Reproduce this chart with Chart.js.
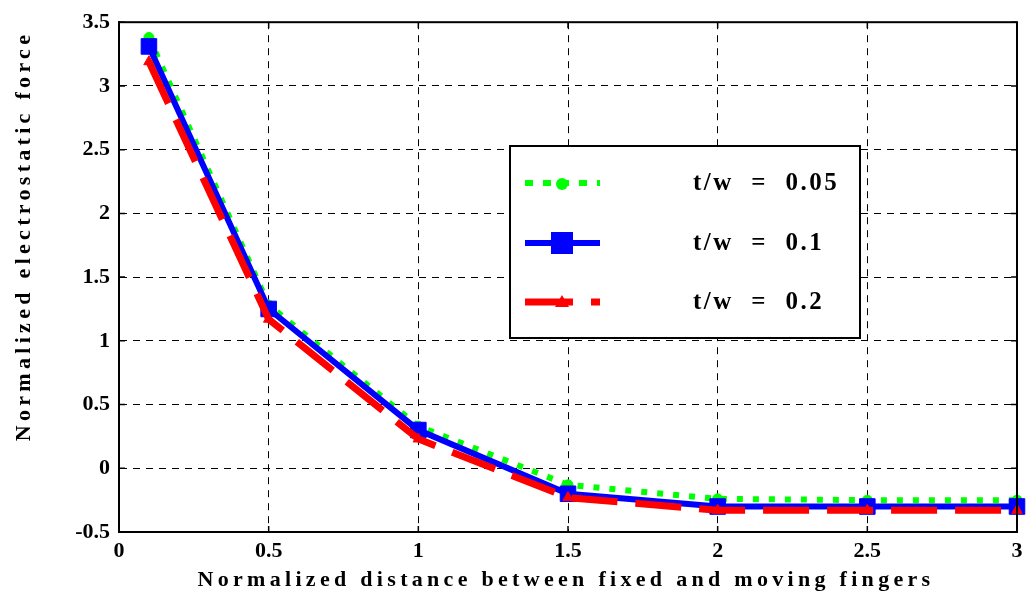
<!DOCTYPE html>
<html>
<head>
<meta charset="utf-8">
<script src="https://cdn.jsdelivr.net/npm/chart.js@4.4.0/dist/chart.umd.min.js"></script>
<style>
  html, body { margin: 0; padding: 0; background: #fff; }
  #wrap { width: 1029px; height: 596px; }
</style>
</head>
<body>
<div id="wrap"><canvas id="forceChart" width="1029" height="596"></canvas></div>
<script>
// data
const distances = [0.1, 0.5, 1, 1.5, 2, 2.5, 3];
const force005 = [3.38, 1.28, 0.33, -0.13, -0.24, -0.25, -0.25];
const force01  = [3.31, 1.25, 0.30, -0.20, -0.30, -0.30, -0.30];
const force02  = [3.19, 1.17, 0.23, -0.23, -0.33, -0.33, -0.33];
const seriesLabels = ['t/w = 0.05', 't/w = 0.1', 't/w = 0.2'];
const xTitle = 'Normalized distance between fixed and moving fingers';
const yTitle = 'Normalized electrostatic force';

const FONT = '"Liberation Serif", "Times New Roman", serif';

function toPoints(ys) {
  return distances.map((x, i) => ({ x: x, y: ys[i] }));
}

const styles = [
  { color: '#00ff00', width: 6, dash: [6, 10], pointStyle: 'circle', radius: 5 },
  { color: '#0000ff', width: 6, dash: [], pointStyle: 'rect', radius: 11 },
  { color: '#ff0000', width: 7, dash: [46, 18], pointStyle: 'triangle', radius: 6 }
];

// frame, inner tick marks, axis titles and the boxed legend
const decorPlugin = {
  id: 'decor',
  afterDraw(chart) {
    const { ctx, chartArea: a, scales } = chart;
    ctx.save();
    ctx.strokeStyle = '#000';
    ctx.lineWidth = 2;
    ctx.setLineDash([]);
    ctx.strokeRect(a.left, a.top, a.right - a.left, a.bottom - a.top);

    ctx.lineWidth = 1.5;
    ctx.beginPath();
    scales.x.ticks.forEach(t => {
      const px = scales.x.getPixelForValue(t.value);
      ctx.moveTo(px, a.bottom); ctx.lineTo(px, a.bottom - 6);
      ctx.moveTo(px, a.top); ctx.lineTo(px, a.top + 6);
    });
    scales.y.ticks.forEach(t => {
      const py = scales.y.getPixelForValue(t.value);
      ctx.moveTo(a.left, py); ctx.lineTo(a.left + 6, py);
      ctx.moveTo(a.right, py); ctx.lineTo(a.right - 6, py);
    });
    ctx.stroke();

    // axis titles
    ctx.fillStyle = '#000';
    ctx.font = 'bold 22px ' + FONT;
    ctx.letterSpacing = '4.3px';
    ctx.textAlign = 'center';
    ctx.textBaseline = 'middle';
    ctx.fillText(xTitle, (a.left + a.right) / 2 - 2, 580);
    ctx.save();
    ctx.translate(24, 236);
    ctx.rotate(-Math.PI / 2);
    ctx.fillText(yTitle, 0, 0);
    ctx.restore();

    // legend box
    const lx = 510, ly = 146, lw = 350, lh = 192;
    ctx.fillStyle = '#fff';
    ctx.fillRect(lx, ly, lw, lh);
    ctx.strokeStyle = '#000';
    ctx.lineWidth = 2;
    ctx.strokeRect(lx, ly, lw, lh);
    const rows = [183, 243, 302];
    seriesLabels.forEach((label, i) => {
      const s = styles[i];
      const y = rows[i];
      ctx.strokeStyle = s.color;
      ctx.lineWidth = s.width;
      ctx.setLineDash(i === 0 ? [8, 10] : i === 2 ? [48, 18] : []);
      ctx.beginPath();
      ctx.moveTo(525, y); ctx.lineTo(600, y);
      ctx.stroke();
      ctx.setLineDash([]);
      ctx.fillStyle = s.color;
      if (i === 1) {
        ctx.fillRect(551, y - 11, 22, 22);
      } else if (i === 0) {
        ctx.beginPath(); ctx.arc(562, y + 1, 6, 0, Math.PI * 2); ctx.fill();
      } else {
        ctx.beginPath();
        ctx.moveTo(562, y - 7); ctx.lineTo(569, y + 5); ctx.lineTo(555, y + 5);
        ctx.closePath(); ctx.fill();
      }
      ctx.fillStyle = '#000';
      ctx.font = 'bold 25px ' + FONT;
      ctx.letterSpacing = '2.5px';
      ctx.textAlign = 'left';
      ctx.fillText(label.replace(/ /g, '  '), 693, y + 1);
    });
    ctx.restore();
  }
};

const tickFmt = v => String(Number(v.toFixed(2)));

const ctx = document.getElementById('forceChart').getContext('2d');
new Chart(ctx, {
  type: 'line',
  data: {
    datasets: [force02, force01, force005].map((ys, k) => {
      const i = 2 - k;
      const s = styles[i];
      return {
        label: seriesLabels[i],
        data: toPoints(ys),
        borderColor: s.color,
        backgroundColor: s.color,
        borderWidth: s.width,
        borderDash: s.dash,
        pointStyle: s.pointStyle,
        pointRadius: s.radius,
        pointBorderWidth: 1,
        pointBackgroundColor: s.color,
        pointBorderColor: s.color,
        tension: 0,
        clip: 20
      };
    })
  },
  options: {
    responsive: false,
    animation: false,
    layout: { padding: { top: 20, right: 9, left: 0, bottom: 0 } },
    plugins: {
      legend: { display: false },
      tooltip: { enabled: false }
    },
    scales: {
      x: {
        type: 'linear',
        min: 0,
        max: 3,
        ticks: {
          stepSize: 0.5,
          color: '#000',
          padding: 6,
          maxRotation: 0,
          callback: tickFmt,
          font: { family: FONT, size: 22, weight: 'bold' }
        },
        grid: { color: '#000', lineWidth: 1, drawTicks: false },
        border: { display: true, color: '#000', width: 2, dash: [7, 6] },
        afterFit(scale) { scale.height = 64; }
      },
      y: {
        type: 'linear',
        min: -0.5,
        max: 3.5,
        ticks: {
          stepSize: 0.5,
          color: '#000',
          padding: 9,
          callback: tickFmt,
          font: { family: FONT, size: 22, weight: 'bold' }
        },
        grid: { color: '#000', lineWidth: 1, drawTicks: false },
        border: { display: true, color: '#000', width: 2, dash: [7, 6] },
        afterFit(scale) { scale.width = 119; }
      }
    }
  },
  plugins: [decorPlugin]
});
</script>
</body>
</html>
